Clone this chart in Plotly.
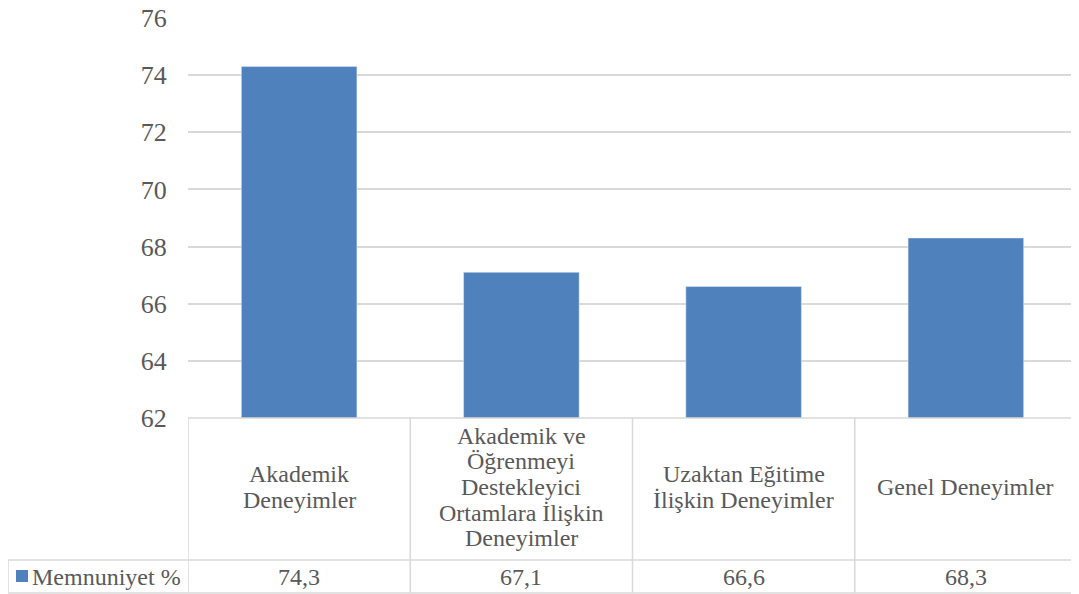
import plotly.graph_objects as go

categories = ["Akademik<br>Deneyimler",
              "Akademik ve<br>Öğrenmeyi<br>Destekleyici<br>Ortamlara İlişkin<br>Deneyimler",
              "Uzaktan Eğitime<br>İlişkin Deneyimler",
              "Genel Deneyimler"]
values = [74.3, 67.1, 66.6, 68.3]
value_labels = ["74,3", "67,1", "66,6", "68,3"]
series_name = "Memnuniyet %"
y_ticks = [62, 64, 66, 68, 70, 72, 74, 76]

BAR = "#4f81bd"
GRID = "#d9d9d9"
TXT = "#595959"
FONT = "Liberation Serif, Times New Roman, serif"

OFF = 8  # page body margin offset
W, H = 1079 - OFF, 594 - OFF
# desired page coordinates: plot x 188..1077, y 18..418
L, T = 188 - OFF, 18 - OFF
R = W - (1077 - OFF)
B = H - (418 - OFF)
pw, ph = W - L - R, H - T - B

def py(pix):  # page pixel y -> paper y
    return ((418 - pix)) / ph

def px(pix):  # page pixel x -> paper x
    return (pix - 188) / pw

xs = list(range(len(categories)))

fig = go.Figure(go.Bar(x=xs, y=values, marker_color=BAR, width=0.52,
                       name=series_name, showlegend=False))

shapes = []
line = dict(color=GRID, width=1.5)
shapes.append(dict(type="line", xref="paper", yref="paper", x0=0, x1=1, y0=0, y1=0, line=line))
for ypix in (560, 593):
    shapes.append(dict(type="line", xref="paper", yref="paper", x0=px(8), x1=1,
                       y0=py(ypix), y1=py(ypix), line=line))
for i in range(len(categories) + 1):
    xv = i - 0.5
    shapes.append(dict(type="line", xref="x", yref="paper", x0=xv, x1=xv,
                       y0=0, y1=py(593), line=line))
shapes.append(dict(type="line", xref="paper", yref="paper", x0=px(8), x1=px(8),
                   y0=py(560), y1=py(593), line=line))
shapes.append(dict(type="rect", xref="paper", yref="paper", x0=px(16), x1=px(28),
                   y0=py(582), y1=py(570), fillcolor=BAR, line=dict(width=0)))

annotations = []
LS = 25.5
CENTER = 487
for i, c in enumerate(categories):
    parts = c.split("<br>")
    n = len(parts)
    for k, p in enumerate(parts):
        ypix = CENTER + (k - (n - 1) / 2) * LS
        annotations.append(dict(x=i, y=py(ypix), xref="x", yref="paper", text=p,
                                showarrow=False, font=dict(family=FONT, size=24, color=TXT),
                                align="center", yanchor="middle"))
    annotations.append(dict(x=i, y=py(577), xref="x", yref="paper", text=value_labels[i],
                            showarrow=False, font=dict(family=FONT, size=24, color=TXT),
                            yanchor="middle"))
annotations.append(dict(x=px(30), y=py(577), xref="paper", yref="paper", text=series_name,
                        showarrow=False, xanchor="left", yanchor="middle",
                        font=dict(family=FONT, size=24, color=TXT)))

fig.update_layout(
    width=W, height=H,
    margin=dict(l=L, r=R, t=T, b=B, pad=0, autoexpand=False),
    plot_bgcolor="white", paper_bgcolor="white",
    xaxis=dict(range=[-0.5, len(categories) - 0.5], showticklabels=False, automargin=False,
               showgrid=False, zeroline=False, showline=False, fixedrange=True),
    yaxis=dict(range=[62, 76], tickvals=y_ticks, showgrid=True, gridcolor=GRID,
               gridwidth=1.5, zeroline=False, showline=False, automargin=False,
               tickfont=dict(family=FONT, size=26, color=TXT),
               ticklabeloverflow="allow",
               ticks="outside", ticklen=15, tickcolor="rgba(0,0,0,0)"),
    shapes=shapes, annotations=annotations,
)

fig.write_html("out.html")
